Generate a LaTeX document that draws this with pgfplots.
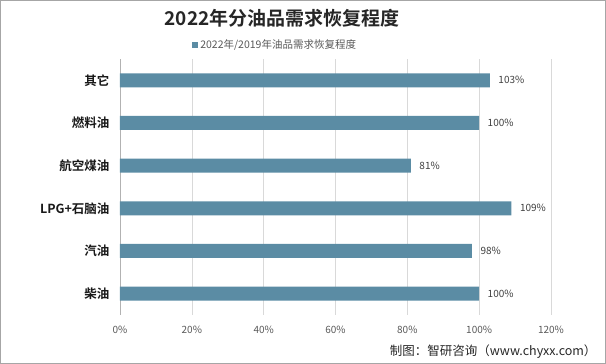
\documentclass[border=0pt]{standalone}
\usepackage{pgfplots}
\pgfplotsset{compat=1.18}
\usepackage{fontspec}
\setmainfont{Noto Sans CJK SC}[BoldFont={Noto Sans CJK SC Bold}]
\definecolor{barc}{HTML}{5B8CA4}
\definecolor{tickc}{HTML}{595959}
\definecolor{gridc}{HTML}{D9D9D9}
\begin{document}
\begin{tikzpicture}
\draw[draw=gray!70,line width=1pt] (0.5pt,0.5pt) rectangle (605.5pt,363.5pt);
\node[font=\bfseries\fontsize{19}{21}\selectfont,text=black!85] at (282pt,346pt) {2022年分油品需求恢复程度};
\node[anchor=east,font=\fontsize{12.5}{14}\selectfont,text=black!85] at (600pt,12pt) {制图：智研咨询（www.chyxx.com）};
\begin{axis}[
  at={(120pt,49pt)}, anchor=south west,
  scale only axis, width=431pt, height=256pt,
  xmin=0, xmax=120, ymin=-0.5, ymax=5.5,
  xtick={0,20,...,120},
  xticklabel={\pgfmathprintnumber{\tick}\%},
  xmajorgrids, grid style={gridc, line width=0.6pt},
  ytick={0,...,5},
  yticklabels={柴油,汽油,LPG+石脑油,航空煤油,燃料油,其它},
  yticklabel style={font=\bfseries\fontsize{12.5}{14}\selectfont, text=black!90, xshift=-7pt},
  xticklabel style={font=\fontsize{10}{12}\selectfont, text=tickc, yshift=-8pt},
  /pgf/number format/assume math mode=true,
  major tick length=0pt,
  axis line style={draw=none},
  axis x line*=bottom,
  axis y line*=left,
  xbar, bar width=14pt,
  nodes near coords={\pgfmathprintnumber{\pgfplotspointmeta}\%},
  point meta=x,
  nodes near coords style={font=\fontsize{10}{12}\selectfont, text=black!75, xshift=5pt},
  legend style={at={(0.36,1.055)}, anchor=center, draw=none, fill=none,
    font=\fontsize{10.5}{12}\selectfont, text=tickc},
  legend image code/.code={\fill[barc] (0pt,-3pt) rectangle (6pt,3pt);},
  clip=false,
]
\draw[gray!60, line width=0.8pt] (axis cs:0,-0.5) -- (axis cs:0,5.5);
\addplot[fill=barc, draw=none] coordinates {(100,0) (98,1) (109,2) (81,3) (100,4) (103,5)};
\addlegendentry{2022年/2019年油品需求恢复程度}
\end{axis}
\end{tikzpicture}
\end{document}
